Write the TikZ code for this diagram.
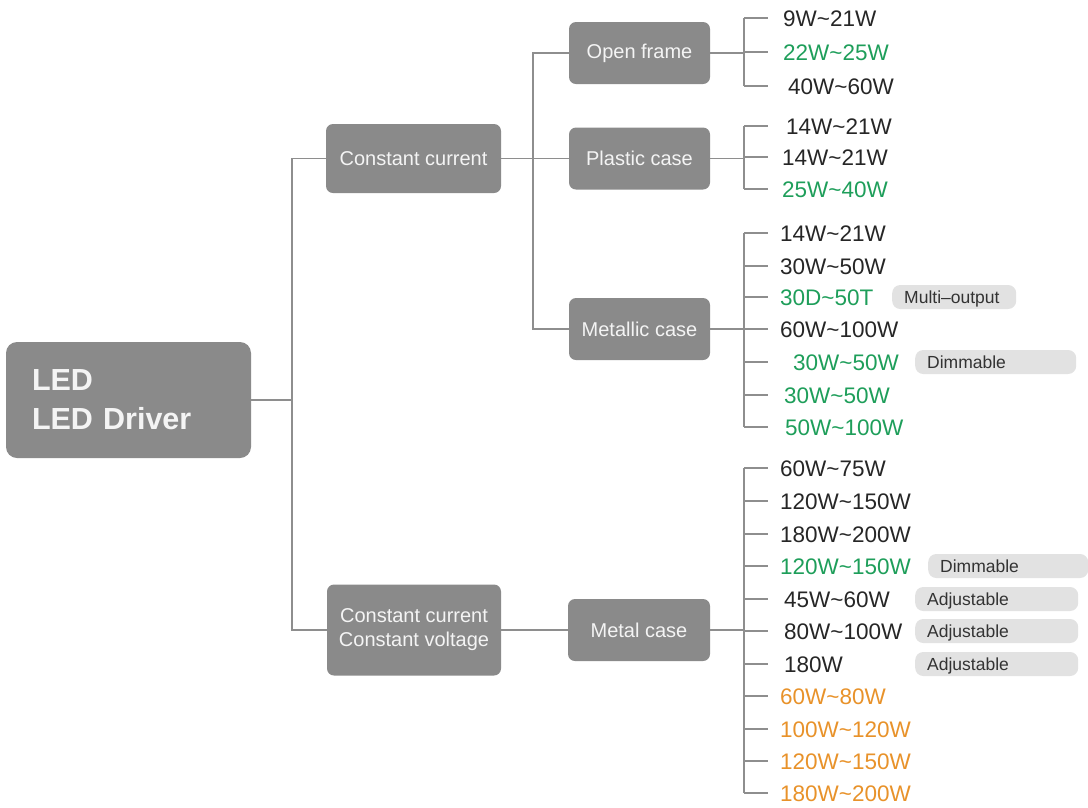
\documentclass[tikz,border=0pt]{standalone}
\usepackage{fontspec}
\setmainfont{Liberation Sans}
\definecolor{boxgray}{HTML}{8A8A8A}
\definecolor{boxtext}{HTML}{F4F4F4}
\definecolor{linegray}{HTML}{8E8E8E}
\definecolor{txt}{HTML}{262626}
\definecolor{grn}{HTML}{1E9E5A}
\definecolor{org}{HTML}{E8922A}
\definecolor{pillgray}{HTML}{E2E2E2}
\definecolor{pilltext}{HTML}{333333}
\begin{document}
\begin{tikzpicture}[x=1pt,y=-1pt,
  box/.style={fill=boxgray, rounded corners=7pt, text=boxtext, font=\fontsize{20}{24}\selectfont, align=center, inner sep=0pt},
  conn/.style={draw=linegray, line width=1.8pt},
  item/.style={anchor=west, inner sep=0pt, text height=16pt, text depth=0pt, font=\fontsize{22.5}{26}\selectfont},
  pill/.style={anchor=west, fill=pillgray, rounded corners=8pt, minimum height=24pt, inner xsep=12pt, inner ysep=0pt, text height=12.5pt, text depth=0pt, align=left, text=pilltext, font=\fontsize{17.5}{20}\selectfont}
]
\useasboundingbox (0,0) rectangle (1088,807);

% main boxes
\node[box, rounded corners=11pt, minimum width=245pt, minimum height=116pt, text width=193pt, align=left,
      font=\fontsize{30.5}{39}\selectfont\bfseries] (led) at (128.5,400) {LED\\LED Driver};
\node[box, minimum width=175pt, minimum height=69pt] (cc) at (413.5,158.5) {Constant current};
\node[box, minimum width=174pt, minimum height=91pt] (cccv) at (414,630) {Constant current\\Constant voltage};
\node[box, minimum width=141pt, minimum height=62pt] (open) at (639.5,53) {Open frame};
\node[box, minimum width=141pt, minimum height=62pt] (plastic) at (639.5,158.5) {Plastic case};
\node[box, minimum width=141pt, minimum height=62pt] (metallic) at (639.5,329) {Metallic case};
\node[box, minimum width=142pt, minimum height=62pt] (metal) at (639,630) {Metal case};

% first level connectors
\coordinate (j1) at (292,400);
\draw[conn] (led.east) -- (j1);
\draw[conn] (cc.west) -| (j1);
\draw[conn] (cccv.west) -| (j1);

% second level
\coordinate (j2) at (533,158.5);
\draw[conn] (cc.east) -- (plastic.west);
\draw[conn] (open.west) -| (j2) |- (metallic.west);
\draw[conn] (cccv.east) -- (metal.west);

% items
\foreach \n/\y/\xx/\c/\t in {
  o1/18/783/txt/9W\textasciitilde 21W,
  o2/52/783/grn/22W\textasciitilde 25W,
  o3/86/788/txt/40W\textasciitilde 60W,
  p1/126/786/txt/14W\textasciitilde 21W,
  p2/157/782/txt/14W\textasciitilde 21W,
  p3/189/782/grn/25W\textasciitilde 40W,
  m1/233/780/txt/14W\textasciitilde 21W,
  m2/266/780/txt/30W\textasciitilde 50W,
  m3/297/780/grn/30D\textasciitilde 50T,
  m4/329/780/txt/60W\textasciitilde 100W,
  m5/362/793/grn/30W\textasciitilde 50W,
  m6/395/784/grn/30W\textasciitilde 50W,
  m7/427/785/grn/50W\textasciitilde 100W,
  t1/468/780/txt/60W\textasciitilde 75W,
  t2/501/780/txt/120W\textasciitilde 150W,
  t3/534/780/txt/180W\textasciitilde 200W,
  t4/566/780/grn/120W\textasciitilde 150W,
  t5/599/784/txt/45W\textasciitilde 60W,
  t6/631/784/txt/80W\textasciitilde 100W,
  t7/664/784/txt/180W,
  t8/696/780/org/60W\textasciitilde 80W,
  t9/729/780/org/100W\textasciitilde 120W,
  t10/761/780/org/120W\textasciitilde 150W,
  t11/793/780/org/180W\textasciitilde 200W}{
  \node[item, text=\c] (\n) at (\xx,\y) {\t};
  \coordinate (\n-t) at (744,\y);
  \draw[conn] (\n-t) -- ++(24,0);
}

% brackets
\draw[conn] (o1-t) -- (o3-t);
\draw[conn] (p1-t) -- (p3-t);
\draw[conn] (m1-t) -- (m7-t);
\draw[conn] (t1-t) -- (t11-t);
\draw[conn] (open.east) -- (open.east -| o1-t);
\draw[conn] (plastic.east) -- (plastic.east -| p1-t);
\draw[conn] (metallic.east) -- (metallic.east -| m1-t);
\draw[conn] (metal.east) -- (metal.east -| t1-t);

% pills
\node[pill, text width=100pt] (q1) at (892,297) {Multi--output};
\node[pill, text width=137pt] (q2) at (915,362) {Dimmable};
\node[pill, text width=136pt] (q3) at (928,566) {Dimmable};
\node[pill, text width=139pt] (q4) at (915,599) {Adjustable};
\node[pill, text width=139pt] (q5) at (915,631) {Adjustable};
\node[pill, text width=139pt] (q6) at (915,664) {Adjustable};
\end{tikzpicture}
\end{document}
